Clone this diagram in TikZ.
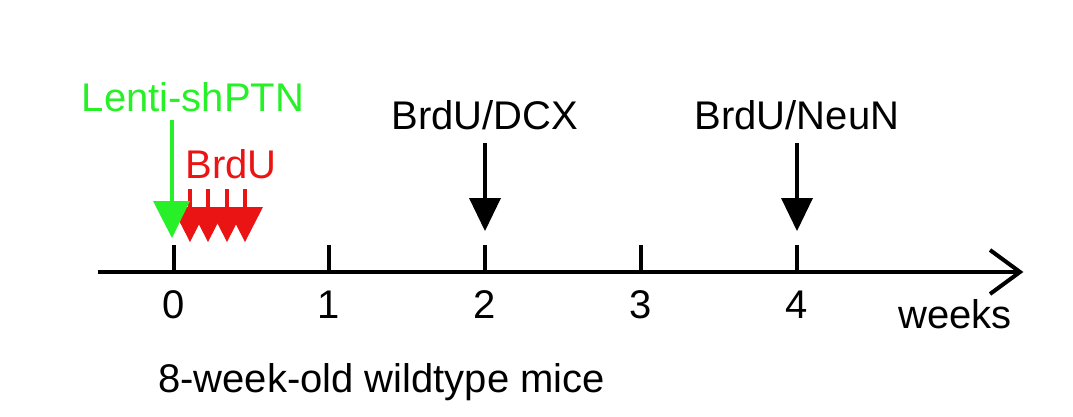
\documentclass[tikz,border=0pt]{standalone}
\usepackage{fontspec}
\setmainfont{Liberation Sans}
\definecolor{lg}{RGB}{40,240,40}
\definecolor{rd}{RGB}{235,20,20}
\begin{document}
\begin{tikzpicture}[x=1pt,y=-1pt,
  lbl/.style={inner sep=0pt,font=\fontsize{40}{42}\selectfont},
  tick/.style={line width=4pt},
  blk/.style={line width=4pt}]
\useasboundingbox (0,0) rectangle (1073,417);
% axis
\coordinate (a0) at (98,272);
\coordinate (a1) at (1020,272);
\draw[line width=4pt] (a0) -- (a1);
\draw[line width=4pt,line join=miter] (990,250) -- (a1) -- (990,294);
\foreach \x/\n in {174/0,329/1,485/2,641/3,797/4}{
  \coordinate (t\n) at (\x,245);
  \coordinate (b\n) at (\x,272);
  \draw[tick] (t\n) -- (b\n);
  \node[lbl,anchor=base] (n\n) at (\x,318) {\n};
}
\node[lbl,anchor=base] (wk) at (955,328) {weeks};
\node[lbl,anchor=base west] (mice) at (158,392) {8-week-old wildtype mice};
% black arrows
\foreach \x/\t in {485/BrdU\slash DCX,797/BrdU\slash NeuN}{
  \node[lbl,anchor=base] at (\x,130) {\t};
  \draw[blk] (\x,143) -- (\x,200);
  \fill (\x-16,198) -- (\x+16,198) -- (\x,231) -- cycle;
}
% red
\node[lbl,anchor=base,text=rd] (brdu) at (231,178) {BrdU};
\foreach \x in {190,208,227,245}{
  \draw[rd,line width=3.5pt] (\x,189) -- (\x,212);
  \fill[rd] (\x-18,207) -- (\x+18,207) -- (\x,242) -- cycle;
}
% green
\node[lbl,anchor=base,text=lg] (lenti) at (193,112) {Lenti-shPTN};
\draw[lg,line width=4pt] (172,120) -- (172,205);
\fill[lg] (153,201) -- (190,201) -- (172,238) -- cycle;
\end{tikzpicture}
\end{document}
